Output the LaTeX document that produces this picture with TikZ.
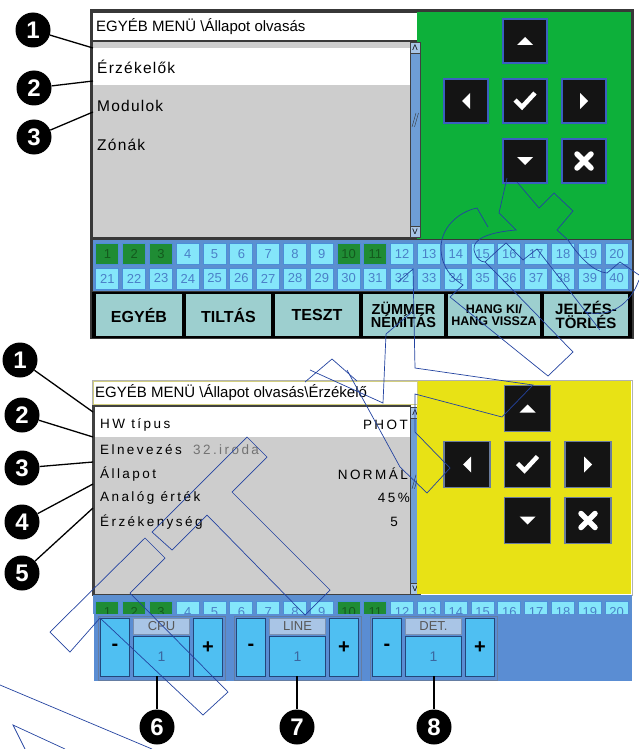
\documentclass[tikz,border=0pt]{standalone}
\usepackage{fontspec}
\setmainfont{Liberation Sans}
\newfontfamily\listfontA[LetterSpace=8]{Liberation Sans}
\newfontfamily\listfontB[LetterSpace=18]{Liberation Sans}
\usetikzlibrary{positioning}
\definecolor{panelgreen}{HTML}{0DB03A}
\definecolor{panelyellow}{HTML}{E8E215}
\definecolor{listgray}{HTML}{CDCDCD}
\definecolor{scrollblue}{HTML}{6E9ED6}
\definecolor{gridblue}{HTML}{5C8FD0}
\definecolor{cellcyan}{HTML}{84E6FA}
\definecolor{celledge}{HTML}{4C8ED8}
\definecolor{cellnum}{HTML}{4A80C8}
\definecolor{cellgreen}{HTML}{1F8C34}
\definecolor{cellnumon}{HTML}{145A1E}
\definecolor{tabteal}{HTML}{9DCFCF}
\definecolor{keyedge}{HTML}{3B5FC0}
\definecolor{keyedgeB}{HTML}{6A7C9C}
\definecolor{ctrlblue}{HTML}{5A8DD3}
\definecolor{keycyan}{HTML}{4FBFF2}
\definecolor{ctrledge}{HTML}{23467A}
\definecolor{labsteel}{HTML}{A9C5E6}
\definecolor{wmarkblue}{HTML}{2343A0}
\tikzset{
    headtext/.style={anchor=west, inner sep=0, font=\fontsize{15}{15}\selectfont},
    listtext/.style={anchor=west, inner sep=0, font=\listfontA\fontsize{15.5}{15.5}\selectfont},
    rowtext/.style={anchor=west, inner sep=0, font=\listfontB\fontsize{13.5}{13.5}\selectfont},
    rowvalue/.style={rowtext, anchor=east},
    navkey/.style={draw=keyedge, line width=1.6, fill=black!92, minimum width=44, minimum height=44, inner sep=0},
    cell/.style={draw=celledge, line width=1, fill=cellcyan, text=cellnum, minimum width=23, minimum height=21, inner sep=0, font=\fontsize{13}{13}\selectfont},
    cellon/.style={cell, fill=cellgreen, text=cellnumon},
    tabkey/.style={draw=black, line width=1.8, fill=tabteal, inner sep=0, minimum height=44, align=center},
    ctrlkey/.style={draw=ctrledge, line width=1.2, fill=keycyan, minimum width=29, minimum height=58, inner sep=0, font=\fontsize{20}{20}\selectfont\bfseries},
    ctrllab/.style={draw=ctrledge!60, line width=0.8, fill=labsteel, text=black!65, minimum width=56, minimum height=16, inner sep=0, font=\fontsize{13}{13}\selectfont},
    ctrlval/.style={draw=ctrledge, line width=1.2, fill=keycyan, text=cellnum!80!black, minimum width=56, minimum height=40, inner sep=0, font=\fontsize{14}{14}\selectfont},
    callout/.style={circle, fill=black, text=white, minimum size=35, inner sep=0, font=\fontsize{24}{24}\selectfont\bfseries},
    leader/.style={draw=black, line width=1.3},
    wmark/.style={draw=wmarkblue, line width=0.7}
}

\begin{document}
\begin{tikzpicture}[x=1pt,y=-1pt]
\useasboundingbox (0,0) rectangle (639,749);

% ---- upper screen
\fill[black!78] (90,9) rectangle (634,339);
\fill[panelgreen] (417,12) rectangle (631,239);
\fill[white] (93,13) rectangle (417,40);
\fill[listgray] (93,42) rectangle (410,237);
\fill[white] (93,48) rectangle (410,85);
\node[headtext] (titleA) at (96,27) {EGYÉB MENÜ \textbackslash Állapot olvasás};
\node[listtext] (itemA1) at (97,67) {Érzékelők};
\node[listtext] (itemA2) at (97,106) {Modulok};
\node[listtext] (itemA3) at (97,145) {Zónák};
% scroll bars
\foreach \p/\top/\bot in {A/42/237, B/407/594} {
    \draw[black!75, fill=scrollblue] (410,\top) rectangle (420,\bot);
    \draw[black!75, fill=scrollblue!60] (410,\top) rectangle (420,\top+11);
    \draw[black!75, fill=scrollblue!60] (410,\bot-11) rectangle (420,\bot);
    \node[inner sep=0, font=\fontsize{8}{8}\selectfont] (scrUp\p) at (415,\top+5.5) {Λ};
    \node[inner sep=0, font=\fontsize{8}{8}\selectfont] (scrDn\p) at (415,\bot-5.5) {V};
    \draw[black!80] (412,{\top+0.4*(\bot-\top)+7}) -- (416,{\top+0.4*(\bot-\top)-7});
    \draw[black!80] (414.5,{\top+0.4*(\bot-\top)+7}) -- (418.5,{\top+0.4*(\bot-\top)-7});
}

% ---- lower screen
\fill[panelyellow] (417,381) rectangle (631,594);
\draw[black!30] (92,380) rectangle (632,595);
\draw[fill=white, draw=olive!40] (93,381) rectangle (417,404);
\fill[black!75] (92,405) rectangle (411,596);
\fill[listgray] (95,407) rectangle (410,594);
\fill[white] (95,407) rectangle (410,437);
\node[headtext] (titleB) at (95,393) {EGYÉB MENÜ \textbackslash Állapot olvasás\textbackslash Érzékelő};
\node[rowtext] (rowB1) at (100,425) {HW típus};
\node[rowvalue] (valB1) at (408,425) {PHOT};
\node[rowtext] (rowB2) at (100,450) {Elnevezés};
\node[rowtext, text=black!55] (valB2) at (193,450) {32.iroda};
\node[rowtext] (rowB3) at (100,474) {Állapot};
\node[rowvalue] (valB3) at (408,474) {NORMÁL};
\node[rowtext] (rowB4) at (100,498) {Analóg érték};
\node[rowvalue] (valB4) at (410,498) {45\%};
\node[rowtext] (rowB5) at (100,522) {Érzékenység};
\node[rowtext, anchor=center] (valB5) at (394,522) {5};

% ---- arrow keys of both screens
\foreach \p/\ox/\oy/\dx/\dy/\ed/\ks in {A/525/41/59/60/keyedge/44, B/527.5/408.5/60.5/56/keyedgeB/46} {
    \node[navkey, draw=\ed, minimum size=\ks] (kUp\p) at (\ox,\oy) {};
    \node[navkey, draw=\ed, minimum size=\ks] (kLeft\p) at (\ox-\dx,\oy+\dy) {};
    \node[navkey, draw=\ed, minimum size=\ks] (kOk\p) at (\ox,\oy+\dy) {};
    \node[navkey, draw=\ed, minimum size=\ks] (kRight\p) at (\ox+\dx,\oy+\dy) {};
    \node[navkey, draw=\ed, minimum size=\ks] (kDown\p) at (\ox,\oy+2*\dy) {};
    \node[navkey, draw=\ed, minimum size=\ks] (kEsc\p) at (\ox+\dx,\oy+2*\dy) {};
    \fill[white] ([shift={(-8,4)}]kUp\p.center) -- ([shift={(8,4)}]kUp\p.center) -- ([shift={(0,-4)}]kUp\p.center) -- cycle;
    \fill[white] ([shift={(-8,-4)}]kDown\p.center) -- ([shift={(8,-4)}]kDown\p.center) -- ([shift={(0,4)}]kDown\p.center) -- cycle;
    \fill[white] ([shift={(4,-8)}]kLeft\p.center) -- ([shift={(4,8)}]kLeft\p.center) -- ([shift={(-4,0)}]kLeft\p.center) -- cycle;
    \fill[white] ([shift={(-4,-8)}]kRight\p.center) -- ([shift={(-4,8)}]kRight\p.center) -- ([shift={(4,0)}]kRight\p.center) -- cycle;
    \draw[white, line width=4.5] ([shift={(-10,-1)}]kOk\p.center) -- ([shift={(-3,6)}]kOk\p.center) -- ([shift={(10,-8)}]kOk\p.center);
    \draw[white, line width=5.5, line cap=round] ([shift={(-7,-7)}]kEsc\p.center) -- ([shift={(7,7)}]kEsc\p.center);
    \draw[white, line width=5.5, line cap=round] ([shift={(-7,7)}]kEsc\p.center) -- ([shift={(7,-7)}]kEsc\p.center);
}

% ---- zone grid, upper screen
\fill[gridblue] (93,240) rectangle (632,291);
\foreach \i [evaluate=\i as \cx using 107.4+26.8*(\i-1)] in {1,...,20} {
    \pgfmathtruncatemacro\j{\i+20}
    \node[cell] (zA\i) at (\cx,254) {\i};
    \node[cell] (zA\j) at (\cx,278.5) {\j};
}
\foreach \i [evaluate=\i as \cx using 107.4+26.8*(\i-1)] in {1,2,3,10,11}
    \node[cellon] (zA\i) at (\cx,254) {\i};

% ---- zone grid, lower screen (half hidden)
\fill[gridblue] (93,595) rectangle (632,614);
\begin{scope}
    \clip (93,596) rectangle (632,613);
    \foreach \i [evaluate=\i as \cx using 107.4+26.8*(\i-1)] in {1,...,20}
        \node[cell, minimum height=22, text depth=-3] (zB\i) at (\cx,612) {\i};
    \foreach \i [evaluate=\i as \cx using 107.4+26.8*(\i-1)] in {1,2,3,10,11}
        \node[cellon, minimum height=22, text depth=-3] (zB\i) at (\cx,612) {\i};
\end{scope}

% ---- menu tabs
\fill[black] (92,292) rectangle (632,338);
\node[tabkey, minimum width=88, font=\fontsize{16}{16}\selectfont\bfseries] (tab1) at (139,315) {EGYÉB};
\node[tabkey, minimum width=87, font=\fontsize{16}{16}\selectfont\bfseries] (tab2) at (228.5,315) {TILTÁS};
\node[tabkey, minimum width=86, font=\fontsize{16}{16}\selectfont\bfseries] (tab3) at (317,315) {TESZT};
\node[tabkey, minimum width=83, font=\fontsize{14.5}{13}\selectfont\bfseries] (tab4) at (403.5,315) {ZÜMMER\\NÉMÍTÁS};
\node[tabkey, minimum width=94, font=\fontsize{12.5}{12}\selectfont\bfseries] (tab5) at (494,315) {HANG KI/\\HANG VISSZA};
\node[tabkey, minimum width=86, font=\fontsize{15}{14}\selectfont\bfseries] (tab6) at (586,315) {JELZÉS-\\TÖRLÉS};

% ---- address setters
\fill[ctrlblue] (94,614) rectangle (632,681);
\foreach \lbl/\gx/\cx/\n [count=\k from 6] in {CPU/98/157/1, LINE/234/297/2, DET./370/434/3} {
    \draw[ctrledge!70, line width=1] (\gx,616) rectangle (\gx+127,680);
    \node[ctrlkey] (minus\n) at (\gx+17,647.5) {-};
    \node[ctrllab] (lab\n) at (\gx+63.5,626.5) {\lbl};
    \node[ctrlval] (val\n) at (\gx+63.5,656.5) {1};
    \node[ctrlkey] (plus\n) at (\gx+110,647.5) {+};
    \coordinate (e\k) at (\cx,676);
    \node[callout] (c\k) at (\cx,727) {\k};
    \draw[leader] (e\k) -- (c\k);
}

% ---- number marks, upper screen
\node[callout] (a1) at (33,30) {1};
\node[callout] (a2) at (34,88) {2};
\node[callout] (a3) at (34,137) {3};
\coordinate (ea1) at (93,48);
\coordinate (ea2) at (93,81);
\coordinate (ea3) at (93,112);
\foreach \k in {1,2,3}
    \draw[leader] (a\k) -- (ea\k);

% ---- number marks, lower screen
\node[callout] (b1) at (20,360) {1};
\node[callout] (b2) at (22,415) {2};
\node[callout] (b3) at (22,468) {3};
\node[callout] (b4) at (22,522) {4};
\node[callout] (b5) at (22,573) {5};
\coordinate (eb1) at (93,412);
\coordinate (eb2) at (93,437);
\coordinate (eb3) at (93,462);
\coordinate (eb4) at (93,484);
\coordinate (eb5) at (93,508);
\foreach \k in {1,...,5}
    \draw[leader] (b\k) -- (eb\k);

% ---- outline watermark
\draw[wmark] (488,227) -- (477,208) .. controls (458,212) and (440,228) .. (441,250) .. controls (442,268) and (452,278) .. (463,285) -- (450,297) -- (548,376) -- (573,352) -- (503,280) -- (485,262);
\draw[wmark] (507,178) -- (499,213) -- (516,230) .. controls (492,232) and (472,238) .. (474,250) .. controls (476,258) and (480,262) .. (485,262) -- (498,250) -- (506,243) -- (523,260) -- (537,249) -- (600,330);
\draw[wmark] (517,182) -- (539,208) -- (554,193) -- (573,211) -- (557,230) -- (568,240) .. controls (580,258) and (594,272) .. (607,273) -- (620,262) -- (639,275);
\draw[wmark] (639,280) .. controls (630,305) and (610,318) .. (585,312);
\draw[wmark] (398,282) -- (413,269) -- (415,368) -- (533,385) -- (502,417) -- (415,394) -- (415,432) -- (450,468) -- (427,493) -- (400,467) -- (347,370);
\draw[wmark] (412,312) -- (386,334) -- (383,403) -- (310,370);
\draw[wmark] (305,382) -- (332,359) -- (357,381);
\draw[wmark] (152,532) -- (247,437) -- (267,457) -- (232,492) -- (330,590) -- (305,615) -- (207,515) -- (172,550) -- cycle;
\draw[wmark] (50,632) -- (145,538) -- (165,558) -- (130,593) -- (228,692) -- (203,715) -- (100,618) -- (70,652) -- cycle;
\draw[wmark] (0,685) -- (152,749);
\draw[wmark] (25,749) -- (13,725) -- (65,749);
\end{tikzpicture}
\end{document}
